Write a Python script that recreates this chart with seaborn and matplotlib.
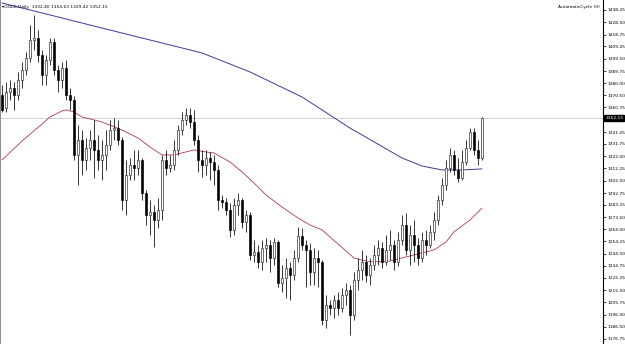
import numpy as np
import pandas as pd
import seaborn as sns
import matplotlib
matplotlib.use("Agg")
import matplotlib.pyplot as plt

# ---- data (daily gold candles) ----
opens = [1370.7, 1360.3, 1373.1, 1376.2, 1370.7, 1382.6, 1390.6, 1400.1, 1414.4, 1416.0,
         1402.5, 1386.6, 1398.5, 1412.8, 1390.6, 1382.6, 1392.1, 1370.7, 1366.7, 1323.0,
         1334.9, 1319.0, 1328.5, 1334.9, 1327.0, 1319.0, 1323.0, 1330.9, 1342.9, 1344.4,
         1334.9, 1287.2, 1307.1, 1315.0, 1312.6, 1319.0, 1292.8, 1275.3, 1277.7, 1271.3,
         1279.3, 1319.0, 1312.6, 1315.0, 1327.0, 1342.9, 1350.8, 1354.8, 1349.2, 1334.9,
         1319.0, 1315.0, 1320.6, 1317.4, 1311.1, 1287.2, 1285.6, 1279.3, 1263.4, 1283.2,
         1287.2, 1269.7, 1275.3, 1243.5, 1245.9, 1237.9, 1249.0, 1251.4, 1241.1, 1253.8,
         1221.2, 1225.2, 1233.1, 1227.6, 1241.1, 1258.6, 1251.4, 1247.5, 1230.0, 1241.1,
         1237.9, 1191.8, 1203.7, 1201.3, 1207.7, 1201.3, 1211.7, 1215.7, 1195.8, 1223.6,
         1231.6, 1237.9, 1227.6, 1235.5, 1243.5, 1249.0, 1237.9, 1247.5, 1251.4, 1237.9,
         1255.4, 1267.3, 1247.5, 1259.4, 1251.4, 1241.1, 1255.4, 1251.4, 1261.8, 1271.3,
         1287.2, 1299.1, 1312.6, 1323.0, 1311.1, 1304.7, 1317.4, 1328.5, 1341.3, 1327.0,
         1320.6]
highs = [1378.6, 1381.0, 1382.6, 1381.0, 1389.0, 1396.9, 1404.9, 1426.3, 1434.3, 1422.4,
         1406.5, 1402.5, 1416.0, 1416.0, 1394.5, 1396.9, 1398.5, 1376.2, 1369.9, 1346.8,
         1342.9, 1336.5, 1342.9, 1350.8, 1338.9, 1334.9, 1342.9, 1350.8, 1352.4, 1350.8,
         1337.3, 1319.0, 1320.6, 1327.0, 1327.0, 1320.6, 1295.2, 1287.2, 1283.2, 1288.8,
         1323.0, 1327.0, 1323.0, 1334.9, 1346.8, 1357.2, 1360.3, 1360.3, 1358.8, 1338.9,
         1327.0, 1327.0, 1325.4, 1323.0, 1315.0, 1291.2, 1288.8, 1284.8, 1288.8, 1292.8,
         1288.8, 1279.3, 1277.7, 1255.4, 1251.4, 1255.4, 1257.0, 1255.4, 1257.0, 1255.4,
         1235.5, 1241.1, 1237.9, 1247.5, 1265.7, 1264.9, 1255.4, 1253.0, 1249.0, 1247.5,
         1239.5, 1211.7, 1207.7, 1211.7, 1214.1, 1217.2, 1221.2, 1219.6, 1230.0, 1241.1,
         1247.5, 1243.5, 1241.1, 1251.4, 1255.4, 1253.8, 1259.4, 1263.4, 1255.4, 1261.8,
         1275.3, 1276.9, 1267.3, 1271.3, 1257.0, 1261.8, 1263.4, 1267.3, 1277.7, 1291.2,
         1304.7, 1319.0, 1328.5, 1327.0, 1320.6, 1327.0, 1334.9, 1344.4, 1344.4, 1334.9,
         1353.2]
lows = [1357.2, 1357.2, 1366.7, 1358.8, 1366.7, 1376.2, 1386.6, 1396.9, 1406.5, 1396.9,
        1378.6, 1378.6, 1394.5, 1386.6, 1373.1, 1376.2, 1366.7, 1358.8, 1319.0, 1299.1,
        1307.1, 1311.1, 1319.0, 1304.7, 1311.1, 1303.1, 1311.1, 1327.0, 1334.9, 1330.9,
        1279.3, 1275.3, 1303.1, 1303.1, 1307.1, 1287.2, 1267.3, 1259.4, 1249.8, 1264.9,
        1271.3, 1307.1, 1309.5, 1311.1, 1323.0, 1338.9, 1346.8, 1344.4, 1330.9, 1309.5,
        1305.5, 1307.1, 1303.1, 1299.1, 1279.3, 1280.8, 1275.3, 1257.8, 1259.4, 1275.3,
        1264.9, 1261.8, 1239.5, 1237.9, 1233.1, 1231.6, 1237.9, 1230.0, 1235.5, 1218.0,
        1214.1, 1209.3, 1207.7, 1223.6, 1237.9, 1247.5, 1218.0, 1219.6, 1219.6, 1218.0,
        1187.8, 1185.4, 1195.8, 1193.4, 1195.8, 1198.2, 1203.7, 1179.9, 1191.8, 1215.7,
        1223.6, 1222.0, 1219.6, 1231.6, 1235.5, 1233.1, 1235.5, 1239.5, 1231.6, 1234.7,
        1251.4, 1243.5, 1235.5, 1237.9, 1235.5, 1237.9, 1243.5, 1249.0, 1255.4, 1267.3,
        1283.2, 1295.2, 1309.5, 1307.1, 1301.5, 1303.1, 1315.0, 1327.0, 1323.0, 1315.0,
        1319.0]
closes = [1358.8, 1373.1, 1376.2, 1370.7, 1382.6, 1390.6, 1400.1, 1414.4, 1416.0, 1402.5,
          1386.6, 1398.5, 1412.8, 1390.6, 1382.6, 1392.1, 1370.7, 1366.7, 1323.0, 1334.9,
          1319.0, 1328.5, 1334.9, 1327.0, 1319.0, 1323.0, 1330.9, 1342.9, 1344.4, 1334.9,
          1287.2, 1307.1, 1315.0, 1312.6, 1319.0, 1292.8, 1275.3, 1277.7, 1271.3, 1279.3,
          1319.0, 1312.6, 1315.0, 1327.0, 1342.9, 1350.8, 1354.8, 1349.2, 1334.9, 1319.0,
          1315.0, 1320.6, 1317.4, 1311.1, 1287.2, 1285.6, 1279.3, 1263.4, 1283.2, 1287.2,
          1269.7, 1275.3, 1243.5, 1245.9, 1237.9, 1249.0, 1251.4, 1241.1, 1253.8, 1221.2,
          1225.2, 1233.1, 1227.6, 1241.1, 1258.6, 1251.4, 1247.5, 1230.0, 1241.1, 1237.9,
          1191.8, 1203.7, 1201.3, 1207.7, 1201.3, 1211.7, 1215.7, 1195.8, 1223.6, 1231.6,
          1237.9, 1227.6, 1235.5, 1243.5, 1249.0, 1237.9, 1247.5, 1251.4, 1237.9, 1255.4,
          1267.3, 1247.5, 1259.4, 1251.4, 1241.1, 1255.4, 1251.4, 1261.8, 1271.3, 1287.2,
          1299.1, 1312.6, 1323.0, 1311.1, 1304.7, 1317.4, 1328.5, 1341.3, 1327.0, 1320.6,
          1352.15]

# slow moving average (blue), read at selected bars
ma_slow_bar = [0, 12, 25, 37, 50, 62, 75, 87, 100, 105, 110, 115, 120]
ma_slow_val = [1443.8, 1434.3, 1423.9, 1414.4, 1404.1, 1389.0, 1369.1, 1344.4, 1320.6,
               1314.2, 1311.1, 1311.1, 1311.9]
# fast moving average (red), read at selected bars
ma_fast_bar = [0, 5, 10, 12, 15, 16, 18, 20, 25, 30, 34, 37, 40, 43, 46, 48, 51, 53, 57,
               60, 63, 66, 70, 74, 77, 80, 84, 88, 91, 93, 97, 100, 105, 108, 111, 113,
               117, 120]
ma_fast_val = [1319.0, 1334.1, 1347.6, 1353.2, 1358.0, 1358.8, 1357.2, 1353.2, 1349.2,
               1342.9, 1336.5, 1329.3, 1323.0, 1323.0, 1325.4, 1327.0, 1325.4, 1324.6,
               1317.4, 1309.5, 1300.7, 1291.2, 1281.6, 1272.9, 1267.3, 1263.4, 1252.2,
               1241.1, 1238.7, 1237.9, 1238.7, 1241.1, 1245.1, 1247.5, 1253.8, 1261.8,
               1271.3, 1280.8]

tick_labels = ["1438.25", "1428.50", "1418.75", "1409.25", "1399.50", "1389.75", "1380.00",
               "1370.50", "1360.75", "1341.25", "1331.75", "1322.00", "1312.25", "1302.50",
               "1292.75", "1283.25", "1273.50", "1264.00", "1254.25", "1244.50", "1234.75",
               "1225.25", "1215.50", "1205.75", "1196.00", "1186.50", "1176.75"]
last_price = 1352.15
title_text = "GOLD,Daily  1332.40 1354.63 1329.42 1352.15"
indicator_text = "AutomaticCycle (0)"

# ---- drawing ----
sns.set_theme(style="white")
plt.rcParams["font.family"] = ["DejaVu Sans"]

fig = plt.figure(figsize=(6.25, 3.44), dpi=100)
ax = fig.add_axes([0.0, 0.0, 603 / 625, 1.0])

df = pd.DataFrame({"bar": np.arange(len(closes)), "open": opens, "high": highs,
                   "low": lows, "close": closes})
up = df["close"] >= df["open"]

# wicks
ax.vlines(df["bar"], df["low"], df["high"], color="black", linewidth=0.55, zorder=2)
# bodies
body_lo = np.minimum(df["open"], df["close"])
body_h = np.abs(df["close"] - df["open"]).clip(lower=0.6)
ax.bar(df["bar"][up], body_h[up], bottom=body_lo[up], width=0.65,
       color="white", edgecolor="#202020", linewidth=0.45, zorder=3)
ax.bar(df["bar"][~up], body_h[~up], bottom=body_lo[~up], width=0.65,
       color="black", edgecolor="black", linewidth=0.45, zorder=3)

# moving averages
sns.lineplot(x=ma_slow_bar, y=ma_slow_val, ax=ax, color="#3a3a9a", linewidth=0.7, zorder=1)
sns.lineplot(x=ma_fast_bar, y=ma_fast_val, ax=ax, color="#b0384a", linewidth=0.6, zorder=1)

# current price line
ax.axhline(last_price, color="#c8c8c8", linewidth=0.6, zorder=0)

ax.set_xlim(-0.5, 150.25)
ax.set_ylim(1172.7, 1446.2)

# right price axis
ax.yaxis.tick_right()
ax.set_yticks([float(t) for t in tick_labels])
ax.set_yticklabels(tick_labels)
ax.tick_params(axis="y", which="both", direction="out", length=2, width=0.5,
               pad=1.5, labelsize=3.2, colors="black", right=True, left=False)
ax.set_xticks([])

for s in ["top", "bottom"]:
    ax.spines[s].set_visible(False)
ax.spines["right"].set_color("black")
ax.spines["right"].set_linewidth(0.8)
ax.spines["left"].set_color("#909090")
ax.spines["left"].set_linewidth(0.8)

# price tag
ax.annotate(f"{last_price:.2f}", xy=(1.0, last_price), xycoords=("axes fraction", "data"),
            xytext=(1.5, 0), textcoords="offset points", ha="left", va="center",
            fontsize=3.2, color="white",
            bbox=dict(boxstyle="square,pad=0.25", fc="black", ec="black"),
            annotation_clip=False)

ax.text(0.004, 0.985, "\u25be" + title_text, transform=ax.transAxes, fontsize=3.2,
        ha="left", va="top", color="black")
ax.text(0.995, 0.985, indicator_text, transform=ax.transAxes, fontsize=3.2,
        ha="right", va="top", color="black")

fig.savefig("out.png", dpi=100, facecolor="white")
